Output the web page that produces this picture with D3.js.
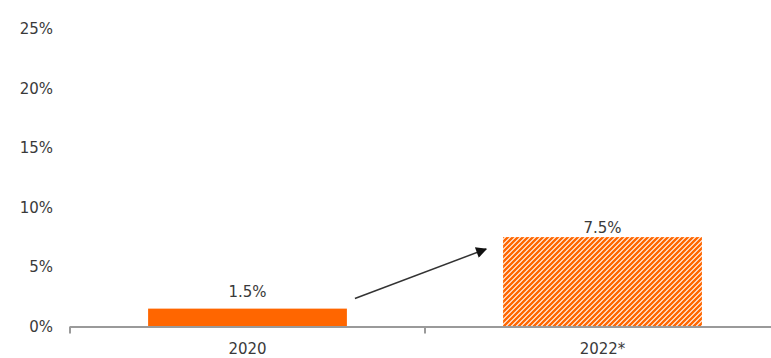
<!DOCTYPE html>
<html>
<head>
<meta charset="utf-8">
<script src="https://cdn.jsdelivr.net/npm/d3@7"></script>
<style>
  body { margin: 0; background: #fff; }
  text { font-family: "DejaVu Sans", Tahoma, sans-serif; fill: #3a3a3a; }
</style>
</head>
<body>
<div id="chart"></div>
<script>
// values
const categories = ["2020", "2022*"];
const values = [1.5, 7.5];
const valueLabels = ["1.5%", "7.5%"];
const hatched = [false, true];
const yTicks = [0, 5, 10, 15, 20, 25];

const width = 771, height = 358;
const orange = "#ff6600";

const svg = d3.select("#chart")
    .append("svg")
    .attr("width", width)
    .attr("height", height);

const x = d3.scaleBand()
    .domain(categories)
    .range([70, 780])
    .padding(0);

const y = d3.scaleLinear()
    .domain([0, 25])
    .range([326.5, 28.5]);

const barW = x.bandwidth() * 0.56;

// hatch pattern, upward diagonal
const defs = svg.append("defs");
const pat = defs.append("pattern")
    .attr("id", "hatch")
    .attr("patternUnits", "userSpaceOnUse")
    .attr("width", 5)
    .attr("height", 5);
pat.append("rect").attr("width", 5).attr("height", 5).attr("fill", "#fff");
pat.append("path")
    .attr("d", "M-1,6 L6,-1 M-1,1 L1,-1 M4,6 L6,4")
    .attr("stroke", orange)
    .attr("stroke-width", 2.5);

defs.append("marker")
    .attr("id", "arrow")
    .attr("viewBox", "0 0 10 10")
    .attr("refX", 9)
    .attr("refY", 5)
    .attr("markerWidth", 14)
    .attr("markerHeight", 11)
    .attr("markerUnits", "userSpaceOnUse")
    .attr("orient", "auto")
    .append("path")
    .attr("d", "M0,0 L10,5 L0,10 Z")
    .attr("fill", "#111");

// y labels (no axis line)
svg.append("g")
    .selectAll("text")
    .data(yTicks)
    .join("text")
    .attr("x", 53)
    .attr("y", d => y(d))
    .attr("dy", "0.36em")
    .attr("text-anchor", "end")
    .style("font-size", "15px")
    .text(d => d + "%");

// bars
svg.append("g")
    .selectAll("rect")
    .data(values)
    .join("rect")
    .attr("x", (d, i) => x(categories[i]) + (x.bandwidth() - barW) / 2)
    .attr("y", d => y(d))
    .attr("width", barW)
    .attr("height", d => y(0) - y(d))
    .attr("fill", (d, i) => hatched[i] ? "url(#hatch)" : orange);

// value labels
const labelGap = [12, 4];
svg.append("g")
    .selectAll("text")
    .data(values)
    .join("text")
    .attr("x", (d, i) => x(categories[i]) + x.bandwidth() / 2)
    .attr("y", (d, i) => y(d) - labelGap[i])
    .attr("text-anchor", "middle")
    .style("font-size", "15px")
    .text((d, i) => valueLabels[i]);

// x axis
const xAxis = svg.append("g");
xAxis.append("line")
    .attr("x1", 70).attr("x2", width)
    .attr("y1", y(0) + 0.5).attr("y2", y(0) + 0.5)
    .attr("stroke", "#9a9a9a")
    .attr("stroke-width", 2);
xAxis.selectAll("line.tick")
    .data([70, x(categories[1])])
    .join("line")
    .attr("class", "tick")
    .attr("x1", d => d).attr("x2", d => d)
    .attr("y1", y(0)).attr("y2", y(0) + 7)
    .attr("stroke", "#9a9a9a")
    .attr("stroke-width", 2);
xAxis.selectAll("text")
    .data(categories)
    .join("text")
    .attr("x", d => x(d) + x.bandwidth() / 2)
    .attr("y", 354)
    .attr("text-anchor", "middle")
    .style("font-size", "15px")
    .text(d => d);

// arrow between bars
const x0 = x(categories[0]) + (x.bandwidth() + barW) / 2 + 8;
const x1 = x(categories[1]) + (x.bandwidth() - barW) / 2 - 17;
svg.append("line")
    .attr("x1", x0).attr("y1", y(0) - 28)
    .attr("x2", x1).attr("y2", y(6.5))
    .attr("stroke", "#333")
    .attr("stroke-width", 1.5)
    .attr("marker-end", "url(#arrow)");
</script>
</body>
</html>
